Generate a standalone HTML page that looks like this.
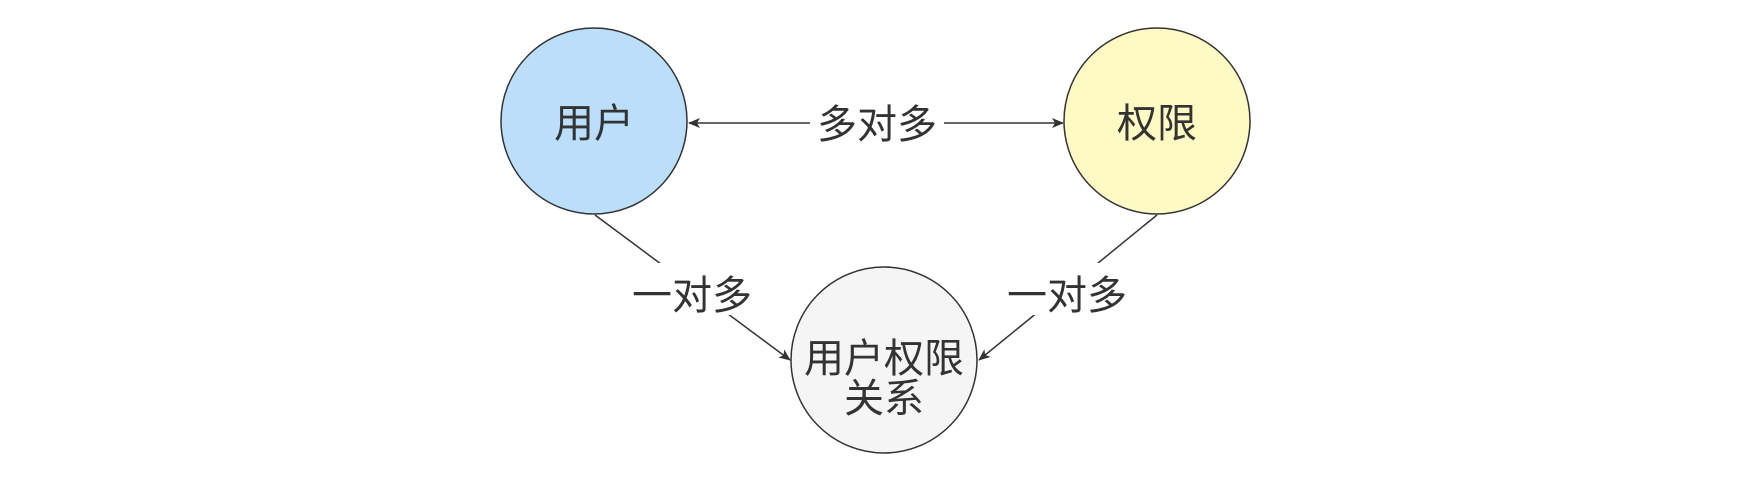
<!DOCTYPE html>
<html><head><meta charset="utf-8"><style>
html,body{margin:0;padding:0;background:#fff;}
svg text{font-family:"Liberation Sans","Noto Sans CJK SC",sans-serif;font-size:40px;fill:#333;}
</style></head><body>
<svg width="1745" height="486" viewBox="0 0 1745 486" xmlns="http://www.w3.org/2000/svg">
<defs>
<marker id="a" markerWidth="12" markerHeight="10" refX="11" refY="5" orient="auto-start-reverse" markerUnits="userSpaceOnUse">
<path d="M0,0 L12,5 L0,10 L3,5 Z" fill="#333"/></marker>
</defs>
<circle cx="594" cy="121" r="93" fill="#bbdefb" stroke="#333" stroke-width="1.5"/>
<circle cx="1157" cy="121" r="93" fill="#fff9c4" stroke="#333" stroke-width="1.5"/>
<circle cx="884" cy="360" r="93" fill="#f5f5f5" stroke="#333" stroke-width="1.5"/>
<line x1="689" y1="123" x2="1063" y2="123" stroke="#333" stroke-width="1.5" marker-start="url(#a)" marker-end="url(#a)"/>
<line x1="595" y1="215" x2="790" y2="360" stroke="#333" stroke-width="1.5" marker-end="url(#a)"/>
<line x1="1157" y1="215" x2="979" y2="360" stroke="#333" stroke-width="1.5" marker-end="url(#a)"/>
<rect x="810" y="98" width="134" height="50" fill="#fff"/>
<rect x="628" y="263" width="130" height="52" fill="#fff"/>
<rect x="1003" y="263" width="130" height="52" fill="#fff"/>
<text x="877" y="138" text-anchor="middle">多对多</text>
<text x="692" y="309" text-anchor="middle">一对多</text>
<text x="1067" y="309" text-anchor="middle">一对多</text>
<text x="594" y="137" text-anchor="middle">用户</text>
<text x="1157" y="137" text-anchor="middle">权限</text>
<text x="884" y="372" text-anchor="middle">用户权限</text>
<text x="884" y="412" text-anchor="middle">关系</text>
</svg>
</body></html>
